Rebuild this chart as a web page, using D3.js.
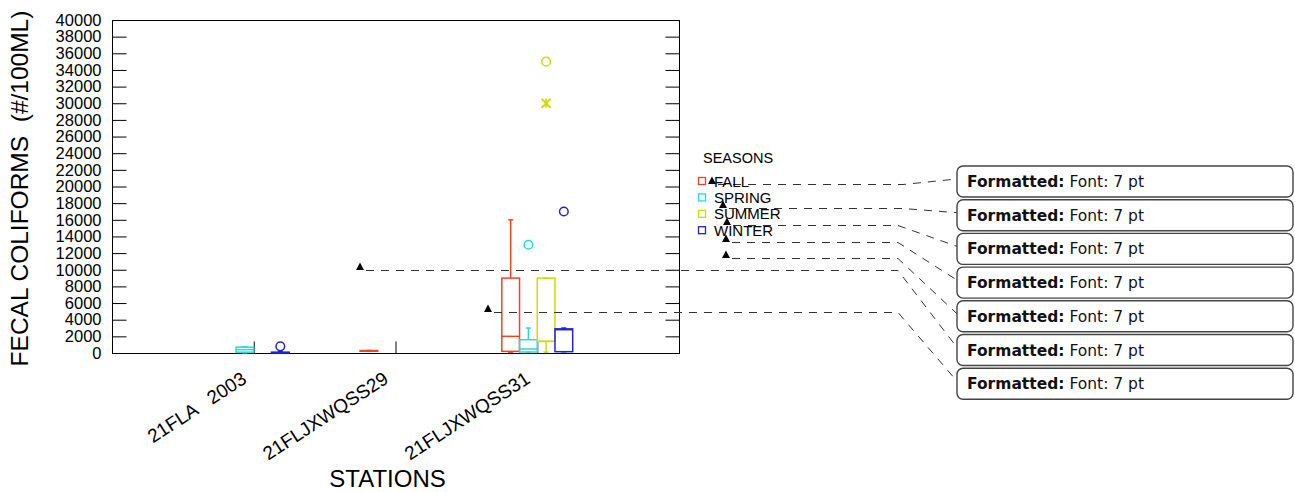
<!DOCTYPE html>
<html><head><meta charset="utf-8">
<script src="https://cdn.jsdelivr.net/npm/d3@7"></script>
<style>
body{margin:0;background:#fff}
svg{display:block;font-family:"Liberation Sans",Arial,Helvetica,sans-serif}
</style></head><body>
<svg id="chart" width="1295" height="492"></svg>
<script>
// ---- data ----
const stations = ["21FLA   2003", "21FLJXWQSS29", "21FLJXWQSS31"];
const seasons = ["FALL", "SPRING", "SUMMER", "WINTER"];
const seasonColors = ["#ee4422", "#22dddd", "#ccdd00", "#2222dd"];
const yTicks = d3.range(0, 40001, 2000);

// five-number summaries per station: [min, q1, median, q3, max]; null = no samples
const fallBox   = [null, [200, 220, 260, 300, 300], [100, 200, 2000, 9000, 16000]];
const springBox = [[20, 100, 400, 700, 750], null, [100, 120, 480, 1600, 3000]];
const summerBox = [null, null, [100, 1400, 1400, 9000, 9000]];
const winterBox = [[10, 20, 40, 100, 150], null, [150, 160, 2800, 2900, 3000]];

// outliers (open circles) and extremes (asterisks) per station
const fallOut   = [[], [], []];
const springOut = [[], [], [13000]];
const summerOut = [[], [], [35000]];
const winterOut = [[800], [], [17000]];
const summerExtreme = [[], [], [30000]];

const boxes = [fallBox, springBox, summerBox, winterBox];
const outs = [fallOut, springOut, summerOut, winterOut];
const extremes = [[[], [], []], [[], [], []], summerExtreme, [[], [], []]];

// ---- layout ----
const plot = {left: 112, right: 679, top: 20, bottom: 353};
const svg = d3.select("#chart");

const x = d3.scalePoint().domain(stations).range([plot.left, plot.right]).padding(1);
const y = d3.scaleLinear().domain([0, 40000]).range([plot.bottom, plot.top]);
const bw = x.step() / 8;

// frame
svg.append("rect")
  .attr("x", plot.left + 0.5).attr("y", plot.top + 0.5)
  .attr("width", plot.right - plot.left).attr("height", plot.bottom - plot.top)
  .attr("fill", "none").attr("stroke", "#000").attr("stroke-width", 1);

// left axis with inward ticks
const gy = svg.append("g").attr("transform", `translate(${plot.left + 0.5},0)`)
  .call(d3.axisLeft(y).tickValues(yTicks).tickSizeInner(-14).tickSizeOuter(0).tickPadding(11).tickFormat(d3.format("d")));
gy.select(".domain").remove();
gy.selectAll("text").attr("font-size", 16.5).attr("fill", "#000").attr("font-family", null);
gy.selectAll("line").attr("stroke", "#000");

// right axis ticks
const gr = svg.append("g").attr("transform", `translate(${plot.right + 0.5},0)`)
  .call(d3.axisRight(y).tickValues(yTicks).tickSizeInner(-14).tickSizeOuter(0).tickFormat(""));
gr.select(".domain").remove();
gr.selectAll("line").attr("stroke", "#000");

// bottom axis ticks at station centres
const gx = svg.append("g").attr("transform", `translate(0,${plot.bottom + 0.5})`)
  .call(d3.axisBottom(x).tickSizeInner(-12).tickSizeOuter(0).tickFormat(""));
gx.select(".domain").remove();
gx.selectAll("line").attr("stroke", "#000");

// rotated station labels
svg.append("g").selectAll("text").data(stations).join("text")
  .attr("transform", d => `translate(${x(d) - 6},${plot.bottom + 29}) rotate(-33)`)
  .attr("text-anchor", "end")
  .attr("font-size", 19)
  .style("white-space", "pre")
  .text(d => d);

// axis titles
svg.append("text")
  .attr("transform", `translate(28,${(plot.top + plot.bottom) / 2 + 2}) rotate(-90)`)
  .attr("text-anchor", "middle").attr("font-size", 24.5)
  .style("white-space", "pre")
  .text("FECAL COLIFORMS  (#/100ML)");
svg.append("text")
  .attr("x", (plot.left + plot.right) / 2 - 8).attr("y", 487)
  .attr("text-anchor", "middle").attr("font-size", 24)
  .text("STATIONS");

// ---- box plots ----
const gb = svg.append("g");
seasons.forEach((season, s) => {
  const color = seasonColors[s];
  stations.forEach((st, i) => {
    const x0 = x(st) + (s - 2) * bw;
    const cx = x0 + bw / 2;
    const b = boxes[s][i];
    if (b) {
      const [mn, q1, md, q3, mx] = b;
      const g = gb.append("g").attr("stroke", color).attr("stroke-width", 1.5).attr("fill", "none");
      g.append("line").attr("x1", cx).attr("x2", cx).attr("y1", y(q3)).attr("y2", y(mx));
      g.append("line").attr("x1", cx).attr("x2", cx).attr("y1", y(q1)).attr("y2", y(mn));
      g.append("line").attr("x1", cx - 2.5).attr("x2", cx + 2.5).attr("y1", y(mx)).attr("y2", y(mx));
      g.append("line").attr("x1", cx - 2.5).attr("x2", cx + 2.5).attr("y1", y(mn)).attr("y2", y(mn));
      g.append("rect").attr("x", x0).attr("width", bw)
        .attr("y", y(q3)).attr("height", Math.max(0.5, y(q1) - y(q3)));
      g.append("line").attr("x1", x0).attr("x2", x0 + bw).attr("y1", y(md)).attr("y2", y(md));
    }
    outs[s][i].forEach(v => {
      gb.append("circle").attr("cx", cx).attr("cy", y(v)).attr("r", 4.3)
        .attr("fill", "none").attr("stroke", color).attr("stroke-width", 1.5);
    });
    extremes[s][i].forEach(v => {
      const r = 4.5, yy = y(v);
      gb.append("path")
        .attr("d", `M${cx - r},${yy - r}L${cx + r},${yy + r}M${cx - r},${yy + r}L${cx + r},${yy - r}M${cx},${yy - r}L${cx},${yy + r}`)
        .attr("stroke", color).attr("stroke-width", 1.8).attr("fill", "none");
    });
  });
});

// ---- review callouts: anchors, leader lines, comment balloons ----
const callouts = [
  {ax: 712, ay: 184, bend: 903},
  {ax: 723, ay: 208, bend: 903},
  {ax: 727, ay: 225, bend: 898},
  {ax: 726, ay: 242, bend: 898},
  {ax: 726, ay: 258, bend: 898},
  {ax: 360, ay: 270, bend: 898},
  {ax: 488, ay: 312, bend: 898}
];
const balloon = {x: 957, w: 336, h: 31, top0: 166, gap: 33.7};
const gc = svg.append("g");
callouts.forEach((c, k) => {
  const by = balloon.top0 + k * balloon.gap;
  gc.append("path")
    .attr("d", `M${c.ax + 6},${c.ay + 0.5}H${c.bend}L${balloon.x},${by + 13}`)
    .attr("fill", "none").attr("stroke", "#333").attr("stroke-width", 1)
    .attr("stroke-dasharray", "8,7");
});

// legend (drawn over the leader lines)
const lg = svg.append("g");
lg.append("text").attr("x", 703).attr("y", 163).attr("font-size", 14.5).text("SEASONS");
seasons.forEach((s, k) => {
  const cy = 181 + k * 16.4;
  lg.append("rect").attr("x", 698.5).attr("y", cy - 3.5).attr("width", 7).attr("height", 7)
    .attr("fill", "none").attr("stroke", seasonColors[k]).attr("stroke-width", 1.3);
  lg.append("text").attr("x", 714).attr("y", cy + 5.5).attr("font-size", 15).text(s);
});

callouts.forEach((c, k) => {
  gc.append("path").attr("d", `M${c.ax - 4},${c.ay}L${c.ax + 4},${c.ay}L${c.ax},${c.ay - 7.5}Z`).attr("fill", "#000");
  const by = balloon.top0 + k * balloon.gap;
  gc.append("rect").attr("x", balloon.x).attr("y", by).attr("width", balloon.w).attr("height", balloon.h)
    .attr("rx", 6).attr("fill", "#fff").attr("stroke", "#444").attr("stroke-width", 1.4);
  const t = gc.append("text").attr("x", balloon.x + 10).attr("y", by + 21)
    .attr("font-size", 15.5).attr("font-family", "'DejaVu Sans', Verdana, sans-serif").attr("fill", "#111");
  t.append("tspan").attr("font-weight", "bold").text("Formatted:");
  t.append("tspan").text(" Font: 7 pt");
});
</script>
</body></html>
